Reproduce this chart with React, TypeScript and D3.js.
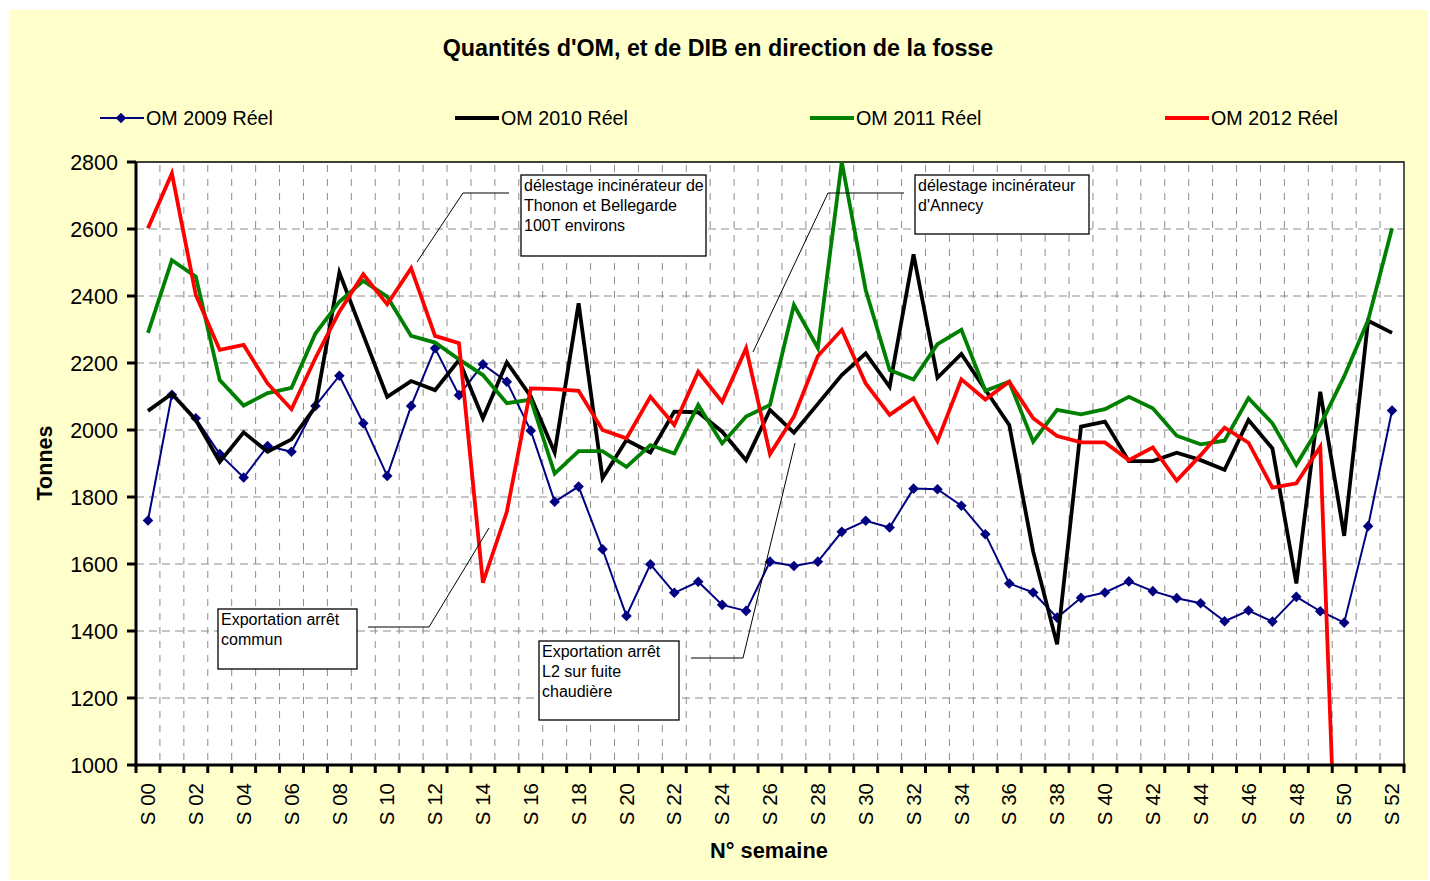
import React from "react";
import * as d3 from "d3";

// weekly categories
const weeks = [
  "S 00", "S 01", "S 02", "S 03", "S 04", "S 05", "S 06", "S 07", "S 08", "S 09",
  "S 10", "S 11", "S 12", "S 13", "S 14", "S 15", "S 16", "S 17", "S 18", "S 19",
  "S 20", "S 21", "S 22", "S 23", "S 24", "S 25", "S 26", "S 27", "S 28", "S 29",
  "S 30", "S 31", "S 32", "S 33", "S 34", "S 35", "S 36", "S 37", "S 38", "S 39",
  "S 40", "S 41", "S 42", "S 43", "S 44", "S 45", "S 46", "S 47", "S 48", "S 49",
  "S 50", "S 51", "S 52",
];

const om2009 = [
  1730, 2105, 2035, 1928, 1858, 1952, 1935, 2072, 2162, 2020, 1863, 2072, 2244, 2104,
  2196, 2144, 1998, 1786, 1831, 1644, 1445, 1599, 1514, 1547, 1478, 1460, 1607, 1594,
  1607, 1696, 1729, 1709, 1825, 1823, 1774, 1689, 1542, 1515, 1440, 1499, 1515, 1548,
  1519, 1498, 1483, 1429, 1461, 1428, 1502, 1459, 1425, 1713, 2058,
];
const om2010 = [
  2057, 2108, 2030, 1905, 1993, 1935, 1972, 2069, 2470, 2284, 2099, 2146, 2119, 2209,
  2035, 2202, 2100, 1933, 2378, 1856, 1970, 1933, 2055, 2053, 1995, 1910, 2060, 1992,
  2078, 2164, 2229, 2129, 2524, 2156, 2227, 2120, 2015, 1637, 1360, 2010, 2025, 1907,
  1907, 1932, 1910, 1881, 2030, 1945, 1542, 2114, 1684, 2326, 2290,
];
const om2011 = [
  2290, 2507, 2458, 2149, 2073, 2110, 2126, 2288, 2383, 2445, 2398, 2281, 2261, 2211,
  2164, 2080, 2091, 1870, 1937, 1937, 1890, 1955, 1930, 2075, 1960, 2040, 2075, 2373,
  2245, 2800, 2418, 2179, 2151, 2256, 2299, 2117, 2144, 1965, 2060, 2047, 2062, 2099,
  2065, 1983, 1957, 1968, 2095, 2020, 1896, 2015, 2160, 2328, 2602,
];
const om2012: (number | null)[] = [
  2602, 2766, 2403, 2239, 2254, 2139, 2062, 2215, 2353, 2465, 2375, 2483, 2281, 2259,
  1544, 1756, 2124, 2122, 2117, 2000, 1975, 2099, 2015, 2174, 2084, 2244, 1928, 2040,
  2221, 2299, 2139, 2045, 2095, 1967, 2151, 2091, 2144, 2035, 1982, 1963, 1963, 1910,
  1948, 1849, 1925, 2007, 1962, 1828, 1841, 1950, 0, null, null,
];

const yTicks = [1000, 1200, 1400, 1600, 1800, 2000, 2200, 2400, 2600, 2800];

const seriesNames = ["OM 2009 Réel", "OM 2010 Réel", "OM 2011 Réel", "OM 2012 Réel"];
const seriesColors = ["#000080", "#000000", "#008000", "#FF0000"];
const seriesData = [om2009, om2010, om2011, om2012];

const FONT = "'Liberation Sans', Arial, sans-serif";
const W = 1430;
const H = 881;
const plot = { left: 136, right: 1404, top: 162, bottom: 765 };

const diamond = "M0,-5.3L5.3,0L0,5.3L-5.3,0Z";

// text boxes with their leader lines
const notes = [
  {
    box: [521, 175, 185, 81],
    lines: ["délestage incinérateur de", "Thonon et Bellegarde", "100T environs"],
    leader: [[417, 262], [463, 193], [509, 193]],
  },
  {
    box: [915, 175, 174, 59],
    lines: ["délestage incinérateur", "d'Annecy"],
    leader: [[753, 352], [828, 193], [904, 193]],
  },
  {
    box: [218, 609, 139, 60],
    lines: ["Exportation arrêt", "commun"],
    leader: [[368, 627], [429, 627], [489, 528]],
  },
  {
    box: [539, 641, 140, 79],
    lines: ["Exportation arrêt", "L2 sur fuite", "chaudière"],
    leader: [[691, 658], [743, 658], [795, 443]],
  },
];

export default function App() {
  const x = d3.scaleBand<string>().domain(weeks).range([plot.left, plot.right]);
  const bw = x.bandwidth();
  const cx = (i: number) => (x(weeks[i]) as number) + bw / 2;
  const y = d3.scaleLinear().domain([1000, 2800]).range([plot.bottom, plot.top]);

  const line = d3
    .line<number | null>()
    .defined((d) => d != null)
    .x((_, i) => cx(i))
    .y((d) => y(d as number));

  const boundaries = weeks.map((w) => x(w) as number).concat([plot.right]);

  return (
    <div style={{ position: "absolute", left: 0, top: 0 }}>
      <style>{`body{margin:0}`}</style>
      <svg width={W} height={H} style={{ display: "block", fontFamily: FONT }}>
        <rect x={0} y={0} width={W} height={H} fill="#ffffff" />
        <rect x={9} y={10} width={1419} height={870} fill="#FFFFCC" />

        <text x={718} y={56} textAnchor="middle" fontSize={23.3} fontWeight="bold">
          Quantités d'OM, et de DIB en direction de la fosse
        </text>

        {/* legend */}
        {seriesNames.map((name, i) => {
          const lx = [100, 455, 810, 1165][i];
          return (
            <g key={name}>
              <line
                x1={lx}
                x2={lx + 44}
                y1={118}
                y2={118}
                stroke={seriesColors[i]}
                strokeWidth={i === 0 ? 2 : 3.8}
              />
              {i === 0 && <path d={diamond} transform={`translate(${lx + 21},118)`} fill={seriesColors[0]} />}
              <text x={lx + 46} y={125} fontSize={19.7}>
                {name}
              </text>
            </g>
          );
        })}

        <defs>
          <clipPath id="plotClip">
            <rect x={plot.left} y={plot.top} width={plot.right - plot.left} height={plot.bottom - plot.top} />
          </clipPath>
        </defs>

        {/* plot area */}
        <rect
          x={plot.left}
          y={plot.top}
          width={plot.right - plot.left}
          height={plot.bottom - plot.top}
          fill="#ffffff"
        />

        {/* vertical grid */}
        {boundaries.slice(1, -1).map((bx, i) => (
          <line
            key={"vg" + i}
            x1={bx}
            x2={bx}
            y1={plot.top}
            y2={plot.bottom}
            stroke="#8c8c8c"
            strokeWidth={1}
            strokeDasharray="7,7"
            strokeDashoffset={-3}
          />
        ))}
        {/* horizontal grid */}
        {yTicks.slice(1, -1).map((t) => (
          <line
            key={"hg" + t}
            x1={plot.left}
            x2={plot.right}
            y1={y(t)}
            y2={y(t)}
            stroke="#8c8c8c"
            strokeWidth={1}
            strokeDasharray="8,5"
          />
        ))}

        {/* top / right border */}
        <path
          d={`M${plot.left},${plot.top}H${plot.right}V${plot.bottom}`}
          fill="none"
          stroke="#000"
          strokeWidth={1.3}
        />

        {/* series */}
        <g clipPath="url(#plotClip)">
          {seriesData.map((data, s) => (
            <g key={seriesNames[s]}>
              <path
                d={line(data as (number | null)[]) || ""}
                fill="none"
                stroke={seriesColors[s]}
                strokeWidth={s === 0 ? 2 : 3.8}
                strokeLinejoin="miter"
              />
              {s === 0 &&
                data.map((v, i) =>
                  v == null ? null : (
                    <path key={i} d={diamond} transform={`translate(${cx(i)},${y(v as number)})`} fill={seriesColors[0]} />
                  )
                )}
            </g>
          ))}
        </g>

        {/* annotations */}
        {notes.map((n, i) => (
          <g key={"note" + i}>
            <path
              d={d3.line()(n.leader as [number, number][]) || ""}
              fill="none"
              stroke="#000"
              strokeWidth={1}
            />
            <rect x={n.box[0]} y={n.box[1]} width={n.box[2]} height={n.box[3]} fill="#ffffff" stroke="#000" strokeWidth={1.3} />
            {n.lines.map((t, j) => (
              <text key={j} x={n.box[0] + 3} y={n.box[1] + 16 + j * 20} fontSize={16}>
                {t}
              </text>
            ))}
          </g>
        ))}

        {/* y axis */}
        <line x1={plot.left} x2={plot.left} y1={plot.top} y2={plot.bottom + 1.5} stroke="#000" strokeWidth={3} />
        {yTicks.map((t) => (
          <g key={"yt" + t}>
            <line x1={plot.left - 9} x2={plot.left} y1={y(t)} y2={y(t)} stroke="#000" strokeWidth={3} />
            <text x={118} y={y(t)} dy="0.35em" textAnchor="end" fontSize={21.5}>
              {t}
            </text>
          </g>
        ))}

        {/* x axis */}
        <line x1={plot.left - 1.5} x2={plot.right + 1.5} y1={plot.bottom} y2={plot.bottom} stroke="#000" strokeWidth={3} />
        {boundaries.map((bx, i) => (
          <line key={"xt" + i} x1={bx} x2={bx} y1={plot.bottom} y2={plot.bottom + 8} stroke="#000" strokeWidth={3} />
        ))}
        {weeks.map((w, i) =>
          i % 2 === 0 ? (
            <text
              key={w}
              transform={`translate(${cx(i)},${plot.bottom + 18}) rotate(-90)`}
              textAnchor="end"
              dy="0.35em"
              fontSize={20.5}
            >
              {w}
            </text>
          ) : null
        )}

        <text x={769} y={858} textAnchor="middle" fontSize={21.8} fontWeight="bold">
          N° semaine
        </text>
        <text
          transform={`translate(52,463) rotate(-90)`}
          textAnchor="middle"
          fontSize={21.5}
          fontWeight="bold"
        >
          Tonnes
        </text>
      </svg>
    </div>
  );
}
